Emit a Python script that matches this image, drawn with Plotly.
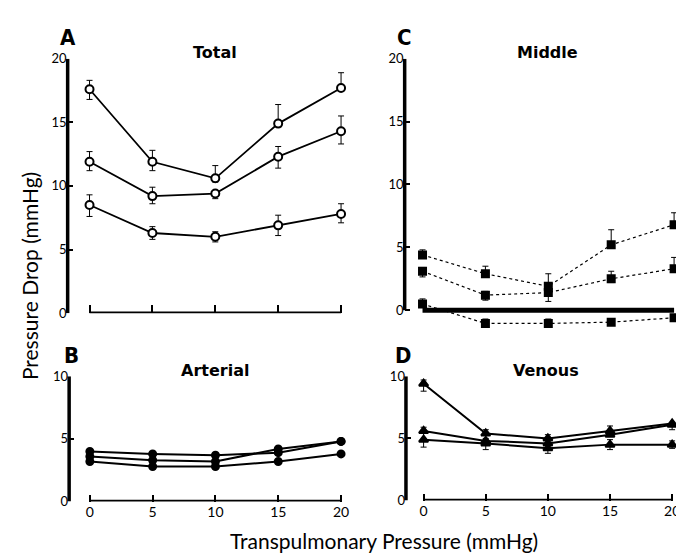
import plotly.graph_objects as go

W, H = 684, 553

x_vals = [0, 5, 10, 15, 20]
x_ticks = [0, 5, 10, 15, 20]

# Panel A - Total (open circles)
total_hi = [17.6, 11.9, 10.6, 14.9, 17.7]
total_hi_up = [0.7, 0.9, 1.0, 1.5, 1.2]
total_hi_dn = [0.8, 0.7, 0.3, 0.0, 0.0]
total_mid = [11.9, 9.2, 9.4, 12.3, 14.3]
total_mid_up = [0.8, 0.7, 0.2, 0.8, 1.2]
total_mid_dn = [0.7, 0.6, 0.4, 0.9, 1.0]
total_lo = [8.5, 6.3, 6.0, 6.9, 7.8]
total_lo_up = [0.8, 0.5, 0.4, 0.8, 0.8]
total_lo_dn = [0.9, 0.5, 0.4, 0.8, 0.7]

# Panel B - Arterial (filled circles)
art_1 = [4.0, 3.8, 3.7, 3.9, 4.8]
art_2 = [3.6, 3.3, 3.2, 4.2, 4.8]
art_3 = [3.2, 2.8, 2.8, 3.2, 3.8]

# Panel C - Middle (filled squares, dotted)
mid_hi = [4.4, 2.9, 1.9, 5.2, 6.8]
mid_hi_up = [0.4, 0.6, 1.0, 1.2, 0.95]
mid_hi_dn = [0.2, 0.2, 0.2, 0.2, 0.2]
mid_mid = [3.1, 1.2, 1.4, 2.5, 3.3]
mid_mid_up = [0.3, 0.3, 0.3, 0.6, 0.9]
mid_mid_dn = [0.45, 0.4, 0.7, 0.3, 0.3]
mid_lo = [0.5, -1.05, -1.05, -0.95, -0.6]
mid_lo_up = [0.4, 0.35, 0.35, 0.25, 0.0]
mid_lo_dn = [0.2, 0.0, 0.0, 0.0, 0.0]

# Panel D - Venous (filled triangles)
ven_hi = [9.4, 5.4, 5.0, 5.6, 6.2]
ven_hi_up = [0.3, 0.3, 0.3, 0.4, 0.0]
ven_hi_dn = [0.6, 0.0, 0.0, 0.0, 0.5]
ven_mid = [5.6, 4.8, 4.6, 5.3, 6.1]
ven_mid_up = [0.3, 0.0, 0.0, 0.0, 0.0]
ven_mid_dn = [0.0, 0.0, 0.0, 0.0, 0.0]
ven_lo = [4.9, 4.6, 4.2, 4.5, 4.5]
ven_lo_up = [0.5, 0.4, 0.3, 0.4, 0.3]
ven_lo_dn = [0.6, 0.5, 0.4, 0.4, 0.3]

FONT = "Lato"
TITLE_FONT = "DejaVu Sans"
fig = go.Figure()


def add(y, n, symbol, fill, dash="solid", up=None, dn=None, size=9, lw=1.8):
    err = None
    if up is not None:
        err = dict(type="data", symmetric=False, array=up, arrayminus=dn,
                   thickness=1, width=3, color="black")
    fig.add_trace(go.Scatter(
        x=x_vals, y=y, mode="lines+markers",
        xaxis=f"x{n}" if n > 1 else "x", yaxis=f"y{n}" if n > 1 else "y",
        line=dict(color="black", width=lw, dash=dash),
        marker=dict(symbol=symbol, size=size, color=fill,
                    line=dict(color="black", width=2)),
        error_y=err, cliponaxis=False, showlegend=False))


add(total_hi, 1, "circle", "white", up=total_hi_up, dn=total_hi_dn, size=8)
add(total_mid, 1, "circle", "white", up=total_mid_up, dn=total_mid_dn, size=8)
add(total_lo, 1, "circle", "white", up=total_lo_up, dn=total_lo_dn, size=8)

add(art_1, 2, "circle", "black", size=7, lw=2)
add(art_2, 2, "circle", "black", size=7, lw=2)
add(art_3, 2, "circle", "black", size=7, lw=2)

add(mid_hi, 3, "square", "black", dash="dot", up=mid_hi_up, dn=mid_hi_dn, size=7, lw=1.2)
add(mid_mid, 3, "square", "black", dash="dot", up=mid_mid_up, dn=mid_mid_dn, size=7, lw=1.2)
add(mid_lo, 3, "square", "black", dash="dot", up=mid_lo_up, dn=mid_lo_dn, size=7, lw=1.2)

add(ven_hi, 4, "triangle-up", "black", up=ven_hi_up, dn=ven_hi_dn, size=8, lw=2)
add(ven_mid, 4, "triangle-up", "black", up=ven_mid_up, dn=ven_mid_dn, size=8, lw=2)
add(ven_lo, 4, "triangle-up", "black", up=ven_lo_up, dn=ven_lo_dn, size=8, lw=2)


def px(v):
    return v / W


def py(v):
    return 1 - v / H


tickfont_y = dict(family=FONT, size=13, color="black")
tickfont_x = dict(family=FONT, size=14, color="black")

common_y = dict(showgrid=False, zeroline=False, showline=False, ticks="inside",
                ticklen=5, tickwidth=1.5, tickcolor="black", tickfont=tickfont_y)
common_x = dict(showgrid=False, zeroline=False, showline=False, tickvals=x_ticks,
                tickcolor="black", tickwidth=1.5, tickfont=tickfont_x)

fig.update_layout(
    xaxis=dict(domain=[px(60), px(338.8)], range=[-1.74, 20.3], anchor="y",
               ticks="inside", ticklen=8, showticklabels=False, **common_x),
    yaxis=dict(domain=[py(306), py(44)], range=[0, 20], anchor="x",
               tickvals=[0, 5, 10, 15, 20], **common_y),
    xaxis2=dict(domain=[px(61.5), px(338.8)], range=[-1.65, 20.3], anchor="y2",
                ticks="inside", ticklen=7, showticklabels=True, **common_x),
    yaxis2=dict(domain=[py(500), py(371)], range=[0, 10], anchor="x2",
                tickvals=[0, 5, 10], **common_y),
    xaxis3=dict(domain=[px(399), px(673.8)], range=[-1.42, 20.3], anchor="y3",
                ticks="", showticklabels=False, **common_x),
    yaxis3=dict(domain=[py(326.3), py(44)], range=[-1.8, 20], anchor="x3",
                tickvals=[0, 5, 10, 15, 20], **common_y),
    xaxis4=dict(domain=[px(400.3), px(671.8)], range=[-1.42, 20.3], anchor="y4",
                ticks="inside", ticklen=7, showticklabels=True, **common_x),
    yaxis4=dict(domain=[py(499), py(371)], range=[0, 10], anchor="x4",
                tickvals=[0, 5, 10], **common_y),
)

shapes = []
for n, top in [(1, 20), (2, 10), (3, 20), (4, 10)]:
    xs = "x" if n == 1 else f"x{n}"
    ys = "y" if n == 1 else f"y{n}"
    shapes.append(dict(type="line", xref=f"{xs} domain", yref=ys, x0=0, x1=0,
                       y0=0, y1=top, line=dict(color="black", width=3.5)))
    shapes.append(dict(type="line", xref=xs, yref=ys, x0=0, x1=20, y0=0, y1=0,
                       line=dict(color="black", width=5 if n == 3 else 3.5)))
fig.update_layout(shapes=shapes)

ann = []
for txt, xx, yy in [("Total", 208, 38), ("Middle", 543, 38),
                    ("Arterial", 208, 365), ("Venous", 541, 365)]:
    ann.append(dict(text=f"<b>{txt}</b>", x=px(xx), y=py(yy), xref="paper", yref="paper",
                    showarrow=False, xanchor="center", yanchor="middle",
                    font=dict(family=TITLE_FONT, size=16, color="black")))
for txt, xx, yy in [("A", 60, 22), ("C", 399, 22), ("B", 64, 350), ("D", 397, 350)]:
    ann.append(dict(text=f"<b>{txt}</b>", x=px(xx), y=py(yy), xref="paper", yref="paper",
                    showarrow=False, xanchor="center", yanchor="middle",
                    font=dict(family="DejaVu Sans Condensed, Liberation Sans Narrow", size=22,
                              color="black")))
ann.append(dict(text="Transpulmonary Pressure (mmHg)", x=px(378), y=py(540),
                xref="paper", yref="paper", showarrow=False, xanchor="center",
                yanchor="middle", font=dict(family=FONT, size=21, color="black")))
ann.append(dict(text="Pressure Drop (mmHg)", x=px(21), y=py(268), textangle=-90,
                xref="paper", yref="paper", showarrow=False, xanchor="center",
                yanchor="middle", font=dict(family=FONT, size=21, color="black")))

fig.update_layout(
    annotations=ann,
    width=W, height=H,
    margin=dict(l=0, r=0, t=0, b=0),
    paper_bgcolor="white", plot_bgcolor="white",
    showlegend=False,
)

fig.write_html("out.html")
